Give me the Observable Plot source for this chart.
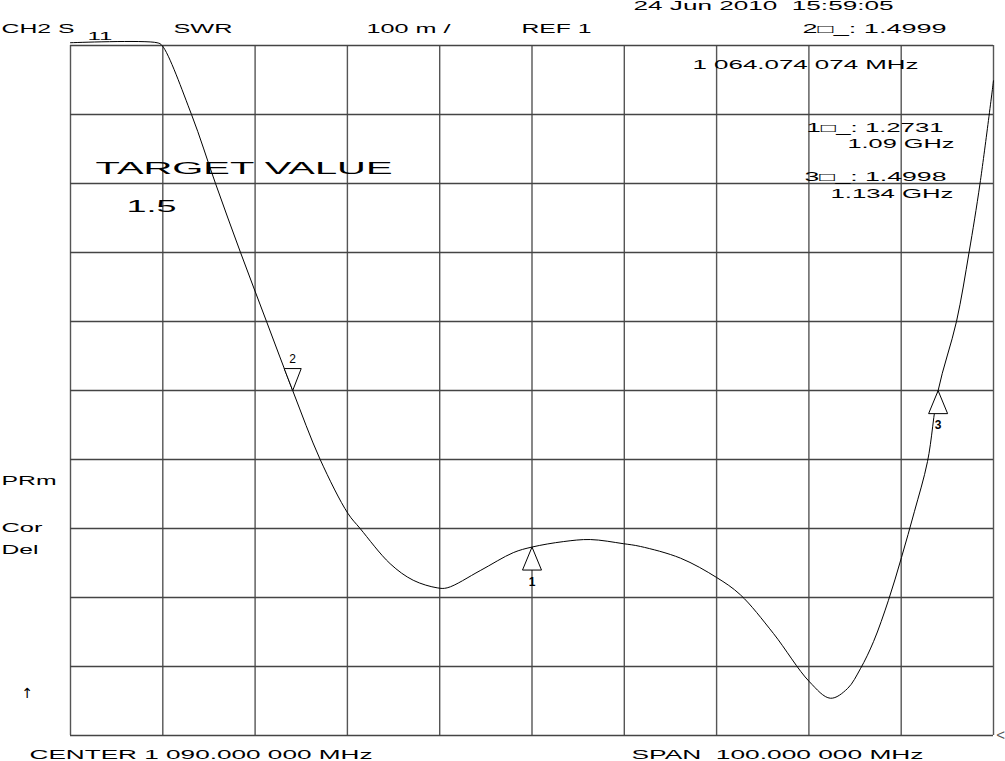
<!DOCTYPE html>
<html><head><meta charset="utf-8">
<script src="https://cdn.jsdelivr.net/npm/d3@7"></script>
<script src="https://cdn.jsdelivr.net/npm/@observablehq/plot@0.6"></script>
<style>body{margin:0;background:#fff;overflow:hidden} svg{display:block}</style>
</head><body><div id="chart"></div>
<script>
// Trace data: frequency (MHz) and SWR
const freqMHz = [1040, 1049.38, 1049.92, 1053.11, 1055.71, 1058.42, 1061.24, 1064.074, 1067.05, 1070.05, 1071.38, 1074.63, 1077.13, 1079.73, 1080.81, 1084.39, 1087.97, 1090, 1093.39, 1096.32, 1099.89, 1101.74, 1106.09, 1110.0, 1112.57, 1116.15, 1120.05, 1122.33, 1124.18, 1125.59, 1127.0, 1128.62, 1130.03, 1131.44, 1132.85, 1134, 1135.99, 1137.35, 1138.54, 1140];
const swr     = [2.004, 2.004, 2.0, 1.9, 1.8, 1.7, 1.6, 1.4999, 1.4, 1.322, 1.3, 1.249, 1.225, 1.214, 1.214, 1.239, 1.265, 1.2731, 1.281, 1.284, 1.278, 1.274, 1.257, 1.229, 1.204, 1.148, 1.078, 1.054, 1.068, 1.097, 1.136, 1.196, 1.258, 1.325, 1.397, 1.4998, 1.6, 1.7, 1.8, 1.949];

// Markers
const markerIds  = ["1", "2", "3"];
const markerFreq = [1090, 1064.074074, 1134];
const markerSwr  = [1.2731, 1.4999, 1.4998];
const markerUp   = [true, false, true];

// Grid / scale
const centerMHz = 1090, spanMHz = 100, refLevel = 1, perDiv = 0.1;
const xTicks = d3.range(11).map(i => centerMHz - spanMHz / 2 + i * spanMHz / 10);
const yTicks = d3.range(11).map(i => +(refLevel + i * perDiv).toFixed(2));

const trace = freqMHz.map((f, i) => ({f, s: swr[i]}));
const markers = markerIds.map((id, i) => ({id, f: markerFreq[i], s: markerSwr[i], up: markerUp[i]}));

const triUp = {draw(c){ c.moveTo(0,0); c.lineTo(-9.5,23); c.lineTo(9.5,23); c.closePath(); }};
const triDown = {draw(c){ c.moveTo(0,0); c.lineTo(-8.5,-22); c.lineTo(8.5,-22); c.closePath(); }};

// annotation texts
const labels = [
  ["CH2 S", 1, 29, 73, 12],
  ["11", 87, 36, 25, 11],
  ["SWR", 173, 29, 59, 12],
  ["100 m /", 366, 29, 84, 12],
  ["REF 1", 521, 29, 70, 12],
  ["2□_: 1.4999", 802, 29, 144, 12],
  ["24 Jun 2010  15:59:05", 633, 6, 260, 12],
  ["1 064.074 074 MHz", 692, 65, 226, 12],
  ["1□_: 1.2731", 806, 128, 137, 12],
  ["1.09 GHz", 847, 144, 107, 12],
  ["3□_: 1.4998", 804, 177, 142, 12],
  ["1.134 GHz", 830, 194, 123, 12],
  ["TARGET VALUE", 95, 168, 297, 17],
  ["1.5", 126, 206, 50, 17],
  ["PRm", 1, 481, 55, 12],
  ["Cor", 1, 528, 41, 12],
  ["Del", 1, 550, 37, 12],
  ["CENTER 1 090.000 000 MHz", 29, 755, 343, 12],
  ["SPAN  100.000 000 MHz", 631, 755, 292, 12]
];
const mL = 70, mT = 45;

const plot = Plot.plot({
  width: 1005, height: 761,
  marginLeft: mL, marginRight: 12, marginTop: mT, marginBottom: 26,
  x: {domain: [xTicks[0], xTicks[10]], axis: null},
  y: {domain: [yTicks[0], yTicks[10]], axis: null},
  style: {fontFamily: "'Liberation Sans', Arial, sans-serif", background: "#fff", color: "#000"},
  marks: [
    Plot.ruleX(xTicks, {stroke: "#555", strokeWidth: 1.4}),
    Plot.ruleY(yTicks, {stroke: "#444", strokeWidth: 1.3}),
    Plot.line(trace, {x: "f", y: "s", curve: "catmull-rom", stroke: "#000", strokeWidth: 1}),
    Plot.dot(markers.filter(d => d.up), {x: "f", y: "s", symbol: triUp, r: 8, stroke: "#000", fill: "#fff", strokeWidth: 1}),
    Plot.dot(markers.filter(d => !d.up), {x: "f", y: "s", symbol: triDown, r: 8, stroke: "#000", fill: "#fff", strokeWidth: 1}),
    Plot.text(markers.filter(d => d.up), {x: "f", y: "s", text: "id", dy: 35, fontSize: 12, fontWeight: "bold", fill: "#000"}),
    Plot.text(markers.filter(d => !d.up), {x: "f", y: "s", text: "id", dy: -31, fontSize: 12, fill: "#000"}),
    Plot.text([refLevel], {x: () => xTicks[10], y: d => d, text: () => "<", dx: 7, fontSize: 15, fill: "#555"}),
    Plot.text(["↑"], {frameAnchor: "top-left", dx: 21 - mL, dy: 688 - mT, text: d => d,
      fontFamily: "'DejaVu Sans', sans-serif", fontSize: 14, fill: "#000"}),
    ...labels.map(([t, x, y, w, fs]) => Plot.text([t], {
      frameAnchor: "top-left", dx: x - mL, dy: y - mT, text: d => d,
      textAnchor: "start", lineAnchor: "middle", fontSize: fs, fill: "#000"
    }))
  ]
});
document.getElementById("chart").appendChild(plot);
const widths = new Map(labels.filter(l => l[3] > 0).map(l => [l[0], l[3]]));
d3.select(plot).selectAll("text").each(function() {
  const w = widths.get(this.textContent);
  if (w) { this.setAttribute("textLength", w); this.setAttribute("lengthAdjust", "spacingAndGlyphs"); }
});
</script></body></html>
